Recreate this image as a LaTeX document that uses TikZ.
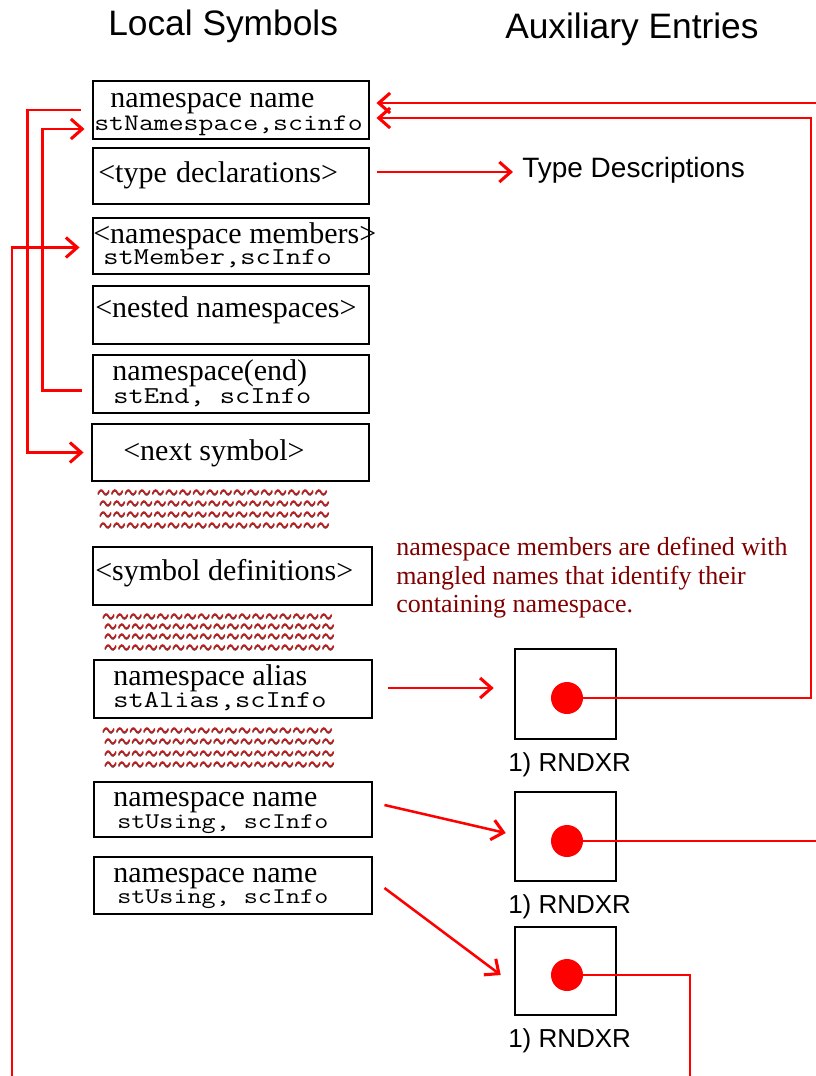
\documentclass[tikz,border=0pt]{standalone}
\usepackage{fontspec}
\setmainfont{Liberation Serif}
\newfontfamily\titlefont{Liberation Sans}
\newfontfamily\codefont{Latin Modern Mono}[FakeStretch=1.22]
\usetikzlibrary{arrows.meta,calc,fit}
\definecolor{notered}{RGB}{128,0,0}
\definecolor{linkred}{RGB}{255,0,0}
\definecolor{tildered}{RGB}{205,25,25}
\definecolor{tildedark}{RGB}{95,70,70}
\newcommand\mytilderow[3]{%
  \foreach \k in {1,...,#3}{%
    \pgfmathsetmacro\tx{#1+(\k-1)*13.6}%
    \draw[tildedark,line width=1pt] (\tx,#2+2.5) .. controls (\tx+2,#2-2) and (\tx+4,#2-2) .. (\tx+5.5,#2+1) .. controls (\tx+7,#2+4) and (\tx+9,#2+4) .. (\tx+11,#2-0.5);
    \draw[tildered,line width=1pt] (\tx,#2+1.5) .. controls (\tx+2,#2-3) and (\tx+4,#2-3) .. (\tx+5.5,#2) .. controls (\tx+7,#2+3) and (\tx+9,#2+3) .. (\tx+11,#2-1.5);
  }}
\begin{document}
\begin{tikzpicture}[x=0.75pt,y=-0.75pt,
  box/.style={draw=black,line width=2.2pt,rectangle,inner sep=0pt},
  rbox/.style={draw=black,line width=1.9pt,rectangle,inner sep=0pt},
  txt/.style={anchor=base west,inner sep=0pt,font=\fontsize{22.5pt}{27pt}\selectfont},
  code/.style={anchor=base west,inner sep=0pt,font=\codefont\fontsize{18.2pt}{21pt}\selectfont},
  title/.style={anchor=base west,inner sep=0pt,font=\titlefont\fontsize{26.5pt}{30pt}\selectfont},
  note/.style={anchor=base west,inner sep=0pt,text=notered,font=\fontsize{19.5pt}{22pt}\selectfont},
  sans/.style={anchor=base west,inner sep=0pt,font=\titlefont\fontsize{19.5pt}{22pt}\selectfont},
  dot/.style={circle,fill=linkred,inner sep=0pt,minimum size=24pt},
  link/.style={draw=linkred,line width=1.9pt},
  arr/.style={link,-{Straight Barb[length=8.5pt,width=15pt,line width=2.3pt]}}
]
\fill[white] (0,0) rectangle (816,1076);
\useasboundingbox (0,0) rectangle (816,1076);

% titles
\node[title] (tl) at (108,35) {Local Symbols};
\node[title] (ta) at (505,38) {Auxiliary Entries};

% local symbol boxes
\node[box,fit={(93,81) (369,139)}] (b1) {};
\node[box,fit={(93,148) (369,204)}] (b2) {};
\node[box,fit={(93,218) (369,274)}] (b3) {};
\node[box,fit={(93,286) (369,344)}] (b4) {};
\node[box,fit={(93,355) (369,413)}] (b5) {};
\node[box,fit={(92,424) (369,481)}] (b6) {};
\node[box,fit={(93,547) (372,605)}] (b7) {};
\node[box,fit={(94,660) (372,718)}] (b8) {};
\node[box,fit={(94,782) (372,837)}] (b9) {};
\node[box,fit={(94,857) (372,914)}] (b10) {};

% box texts
\node[txt] (t1a) at (110,107) {namespace name};
\node[code,font=\codefont\fontsize{17.8pt}{21pt}\selectfont] (t1b) at (94,130) {stNamespace,scinfo};
\node[txt] (t2) at (98,182) {<type\hspace{7pt}declarations>};
\node[txt] (t3a) at (93,243) {<namespace members>};
\node[code] (t3b) at (103,264) {stMember,scInfo};
\node[txt] (t4) at (95,317) {<nested namespaces>};
\node[txt] (t5a) at (112,380) {namespace(end)};
\node[code] (t5b) at (113,403) {stEnd, scInfo};
\node[txt] (t6) at (123,460) {<next symbol>};
\node[txt] (t7) at (95,580) {<symbol definitions>};
\node[txt] (t8a) at (113,685) {namespace alias};
\node[code] (t8b) at (113,707) {stAlias,scInfo};
\node[txt] (t9a) at (113,806) {namespace name};
\node[code,font=\codefont\fontsize{16.8pt}{20pt}\selectfont] (t9b) at (117,828) {stUsing, scInfo};
\node[txt] (t10a) at (113,882) {namespace name};
\node[code,font=\codefont\fontsize{16.8pt}{20pt}\selectfont] (t10b) at (117,903) {stUsing, scInfo};

% squiggles
\mytilderow{98}{492}{17}
\mytilderow{100}{503}{17}
\mytilderow{100}{514}{17}
\mytilderow{100}{525}{17}
\mytilderow{103}{616}{17}
\mytilderow{105}{626}{17}
\mytilderow{105}{636}{17}
\mytilderow{105}{647}{17}
\mytilderow{103}{730}{17}
\mytilderow{105}{741}{17}
\mytilderow{105}{753}{17}
\mytilderow{105}{764}{17}

% note
\node[note] (n1) at (396,555) {namespace members are defined with};
\node[note] (n2) at (396,584) {mangled names that identify their};
\node[note] (n3) at (396,612) {containing namespace.};

% auxiliary side
\node[sans,font=\titlefont\fontsize{21pt}{24pt}\selectfont] (td) at (522,177) {Type Descriptions};
\node[rbox,fit={(515,649) (616,739)}] (ra) {};
\node[rbox,fit={(515,792) (616,881)}] (rb) {};
\node[rbox,fit={(515,927) (616,1015)}] (rc) {};
\node[sans] (la) at (508,771) {1) RNDXR};
\node[sans] (lb) at (508,913) {1) RNDXR};
\node[sans] (lc) at (508,1047) {1) RNDXR};
\node[dot] (da) at (567,698) {};
\node[dot] (db) at (567,841) {};
\node[dot] (dc) at (567,975) {};

% left connectors
\coordinate (l1s) at ($(b1.west)+(-11,0)$);
\draw[arr] (l1s) -- ++(-53,0) |- ($(b6.west)+(-7,0)$);
\coordinate (l2s) at ($(b5.west)+(-10,6.5)$);
\draw[arr] (l2s) -- ++(-39,0) |- ($(b1.west)+(-7,19)$);
\coordinate (l3s) at (12,1076);
\draw[arr] (l3s) |- ($(b3.west)+(-12,1.5)$);

% type declarations
\coordinate (s2) at ($(b2.east)+(7,-4)$);
\draw[arr] (s2) -- ($(td.west|-s2)+(-9,0)$);

% to RNDXR boxes
\coordinate (s8) at ($(b8.east)+(15,-1)$);
\draw[arr] (s8) -- ($(ra.west|-s8)+(-20,0)$);
\draw[arr] ($(b9.east)+(11,-4.5)$) -- ($(rb.west)+(-8,-3.5)$);
\draw[arr] ($(b10.east)+(11,2.5)$) -- ($(rc.west)+(-13,4)$);

% from RNDXR dots
\coordinate (ca) at (811,698);
\draw[arr] (da) -- (ca) |- ($(b1.east)+(6,8)$);
\coordinate (ctop) at (816,103);
\draw[arr] (ctop) -- ($(b1.east)+(6,-7)$);
\coordinate (cb) at (816,841);
\draw[link] (db) -- (cb);
\coordinate (cc) at (690,1076);
\draw[link] (dc) -| (cc);
\end{tikzpicture}
\end{document}
